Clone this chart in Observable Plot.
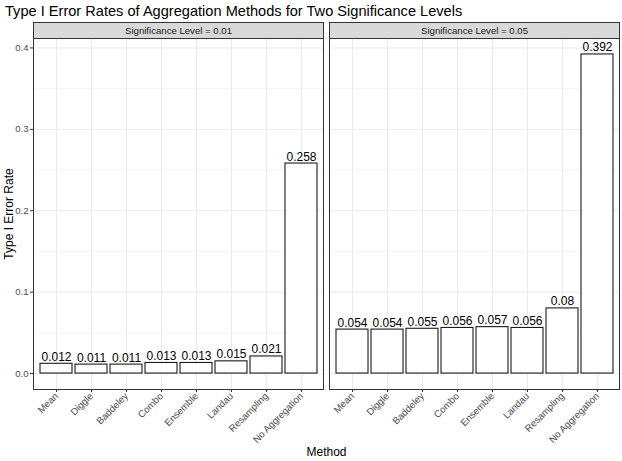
<!DOCTYPE html>
<html><head><meta charset="utf-8">
<script src="https://cdn.jsdelivr.net/npm/d3@7"></script>
<script src="https://cdn.jsdelivr.net/npm/@observablehq/plot@0.6"></script>
<style>
body{margin:0;background:#fff;font-family:"Liberation Sans",Arial,sans-serif;}
#title{font-size:14.6px;height:21px;line-height:22px;padding-left:5px;color:#000;white-space:nowrap;}
</style></head><body>
<div id="title">Type I Error Rates of Aggregation Methods for Two Significance Levels</div>
<div id="chart"></div>
<script>
const methods = ["Mean", "Diggle", "Baddeley", "Combo", "Ensemble", "Landau", "Resampling", "No Aggregation"];
const levels = [0.01, 0.05];
const rates001 = [0.012, 0.011, 0.011, 0.013, 0.013, 0.015, 0.021, 0.258];
const rates005 = [0.054, 0.054, 0.055, 0.056, 0.057, 0.056, 0.08, 0.392];
const yTicks = [0, 0.1, 0.2, 0.3, 0.4];
const yMinorTicks = [0.05, 0.15, 0.25, 0.35];

const data = levels.flatMap((lv, i) => (i === 0 ? rates001 : rates005).map((v, j) => ({level: lv, method: methods[j], rate: v})));

const W = 622, H = 440, mT = 17, mB = 72, mL = 33, mR = 2;
const panelH = H - mT - mB;
const font = "'Liberation Sans', Arial, sans-serif";

const chart = Plot.plot({
  width: W, height: H, marginTop: mT, marginBottom: mB, marginLeft: mL, marginRight: mR,
  style: {fontFamily: font, fontSize: "9.6px", background: "white", color: "#333"},
  fx: {domain: levels, paddingInner: 0.02, paddingOuter: 0, axis: null, label: null},
  x: {domain: methods, paddingInner: 0.1, paddingOuter: 0.15, align: 0.5, label: null},
  y: {domain: [-0.0196, 0.4116], label: null},
  marks: [
    Plot.gridY(yMinorTicks, {stroke: "#ebebeb", strokeOpacity: 1, strokeWidth: 0.5}),
    Plot.gridY(yTicks, {stroke: "#ebebeb", strokeOpacity: 1, strokeWidth: 1}),
    Plot.gridX(methods, {stroke: "#ebebeb", strokeOpacity: 1, strokeWidth: 1}),
    Plot.barY(data, {fx: "level", x: "method", y: "rate", fill: "white", stroke: "#1a1a1a", strokeWidth: 1.1}),
    Plot.text(data, {fx: "level", x: "method", y: "rate", text: d => String(d.rate), lineAnchor: "bottom", dy: -3, fontSize: 12, fill: "#000"}),
    Plot.frame({stroke: "#333", strokeWidth: 1}),
    Plot.frame({fill: "#d9d9d9", stroke: "#333", strokeWidth: 1, insetTop: -16, insetBottom: panelH}),
    Plot.text(levels, {fx: d => d, text: d => `Significance Level = ${d}`, frameAnchor: "top", dy: -8, lineAnchor: "middle", fontSize: 9.6, fill: "#1a1a1a"}),
    Plot.axisY(yTicks, {tickFormat: d3.format(".1f"), tickSize: 3, tickPadding: 2, stroke: "#333", fill: "#4d4d4d", label: null}),
    Plot.axisX({tickSize: 3, tickPadding: 2, tickRotate: -45, stroke: "#333", fill: "#4d4d4d", label: null}),
    Plot.text(["Method"], {text: d => d, frameAnchor: "bottom", facet: "super", dy: 63, lineAnchor: "middle", fontSize: 12, fill: "#000"}),
    Plot.text(["Type I Error Rate"], {text: d => d, frameAnchor: "left", facet: "super", rotate: -90, dx: -24, textAnchor: "middle", lineAnchor: "middle", fontSize: 12, fill: "#000"})
  ]
});
document.getElementById("chart").appendChild(chart);
</script>
</body></html>
